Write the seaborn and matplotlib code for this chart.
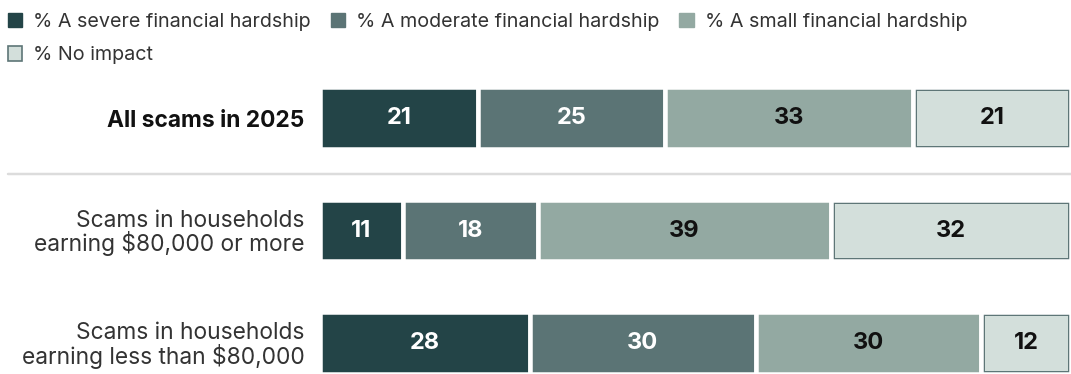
import numpy as np
import matplotlib
matplotlib.use("Agg")
import matplotlib.pyplot as plt
import seaborn as sns
from matplotlib.patches import Patch

# Survey results: share of scams by level of financial impact (%)
categories = [
    "All scams in 2025",
    "Scams in households\nearning $80,000 or more",
    "Scams in households\nearning less than $80,000",
]
series = [
    "% A severe financial hardship",
    "% A moderate financial hardship",
    "% A small financial hardship",
    "% No impact",
]
severe = [21, 11, 28]
moderate = [25, 18, 30]
small = [33, 39, 30]
no_impact = [21, 32, 12]

colors = ["#234447", "#5b7475", "#93a9a2", "#d3dfdb"]
border_dark = "#5e7677"
value_colors = ["white", "white", "#111111", "#111111"]

sns.set_theme(style="white")
plt.rcParams["font.family"] = ["Inter", "DejaVu Sans"]

PX = 0.72  # points per pixel at 100 dpi
fig = plt.figure(figsize=(10.71, 3.74), dpi=100)
ax = fig.add_axes([320 / 1071, 0, 751 / 1071, 1])

values = [severe, moderate, small, no_impact]
starts = np.cumsum(np.vstack([np.zeros(3), np.array(values[:-1])]), axis=0)
bar_h = 0.55
gap_lw = 4.5 * PX

label_containers = []
for i, (vals, col) in enumerate(zip(values, colors)):
    last = i == len(values) - 1
    sns.barplot(
        x=vals, y=categories, left=starts[i], color=col, saturation=1,
        edgecolor=border_dark if last else "white",
        linewidth=7 * PX if last else gap_lw,
        width=bar_h, errorbar=None, orient="y", ax=ax,
    )
    cont = ax.containers[-1]
    label_containers.append(cont)
    if last:
        # keep the dark outline inside each bar, then open a white gap around it
        for p in cont:
            p.set_clip_path(p)
        sns.barplot(
            x=vals, y=categories, left=starts[i], color="white", fill=False,
            saturation=1, linewidth=gap_lw, width=bar_h, errorbar=None,
            orient="y", ax=ax,
        )

for cont, vals, tc in zip(label_containers, values, value_colors):
    ax.bar_label(cont, labels=[str(v) for v in vals], label_type="center",
                 color=tc, fontsize=17, fontweight="bold")

ax.set_xlim(0, 100)
ax.set_ylim(2 + 31 / 112.5, -118 / 112.5)
ax.set_xlabel("")
ax.set_ylabel("")
ax.set_xticks([])
sns.despine(ax=ax, left=True, bottom=True)
ax.tick_params(axis="y", length=0, pad=11)
for k, lab in enumerate(ax.get_yticklabels()):
    lab.set_fontsize(16.4)
    lab.set_linespacing(1.0)
    if k == 0:
        lab.set_fontweight("bold")
        lab.set_color("#111111")
    else:
        lab.set_color("#333333")

# separator between the overall row and the income breakdown
ax.axhline(0.5, xmin=(8 - 320) / 751, xmax=1, color="#dcdcdc",
           linewidth=2.5 * PX, clip_on=False)

handles = [
    Patch(facecolor=colors[0], edgecolor=colors[0], label=series[0]),
    Patch(facecolor=colors[3], edgecolor=border_dark, linewidth=1.2, label=series[3]),
    Patch(facecolor=colors[1], edgecolor=colors[1], label=series[1]),
    Patch(facecolor=colors[2], edgecolor=colors[2], label=series[2]),
]
fig.legend(
    handles=handles, loc="upper left", bbox_to_anchor=(-0.004, 0.998), ncol=3,
    frameon=False, fontsize=14.2, handlelength=0.75, handleheight=0.75,
    handletextpad=0.55, columnspacing=1.0, labelspacing=0.78,
    borderaxespad=0.4, borderpad=0.2, labelcolor="#333333",
)

fig.savefig("out.png", dpi=100)
